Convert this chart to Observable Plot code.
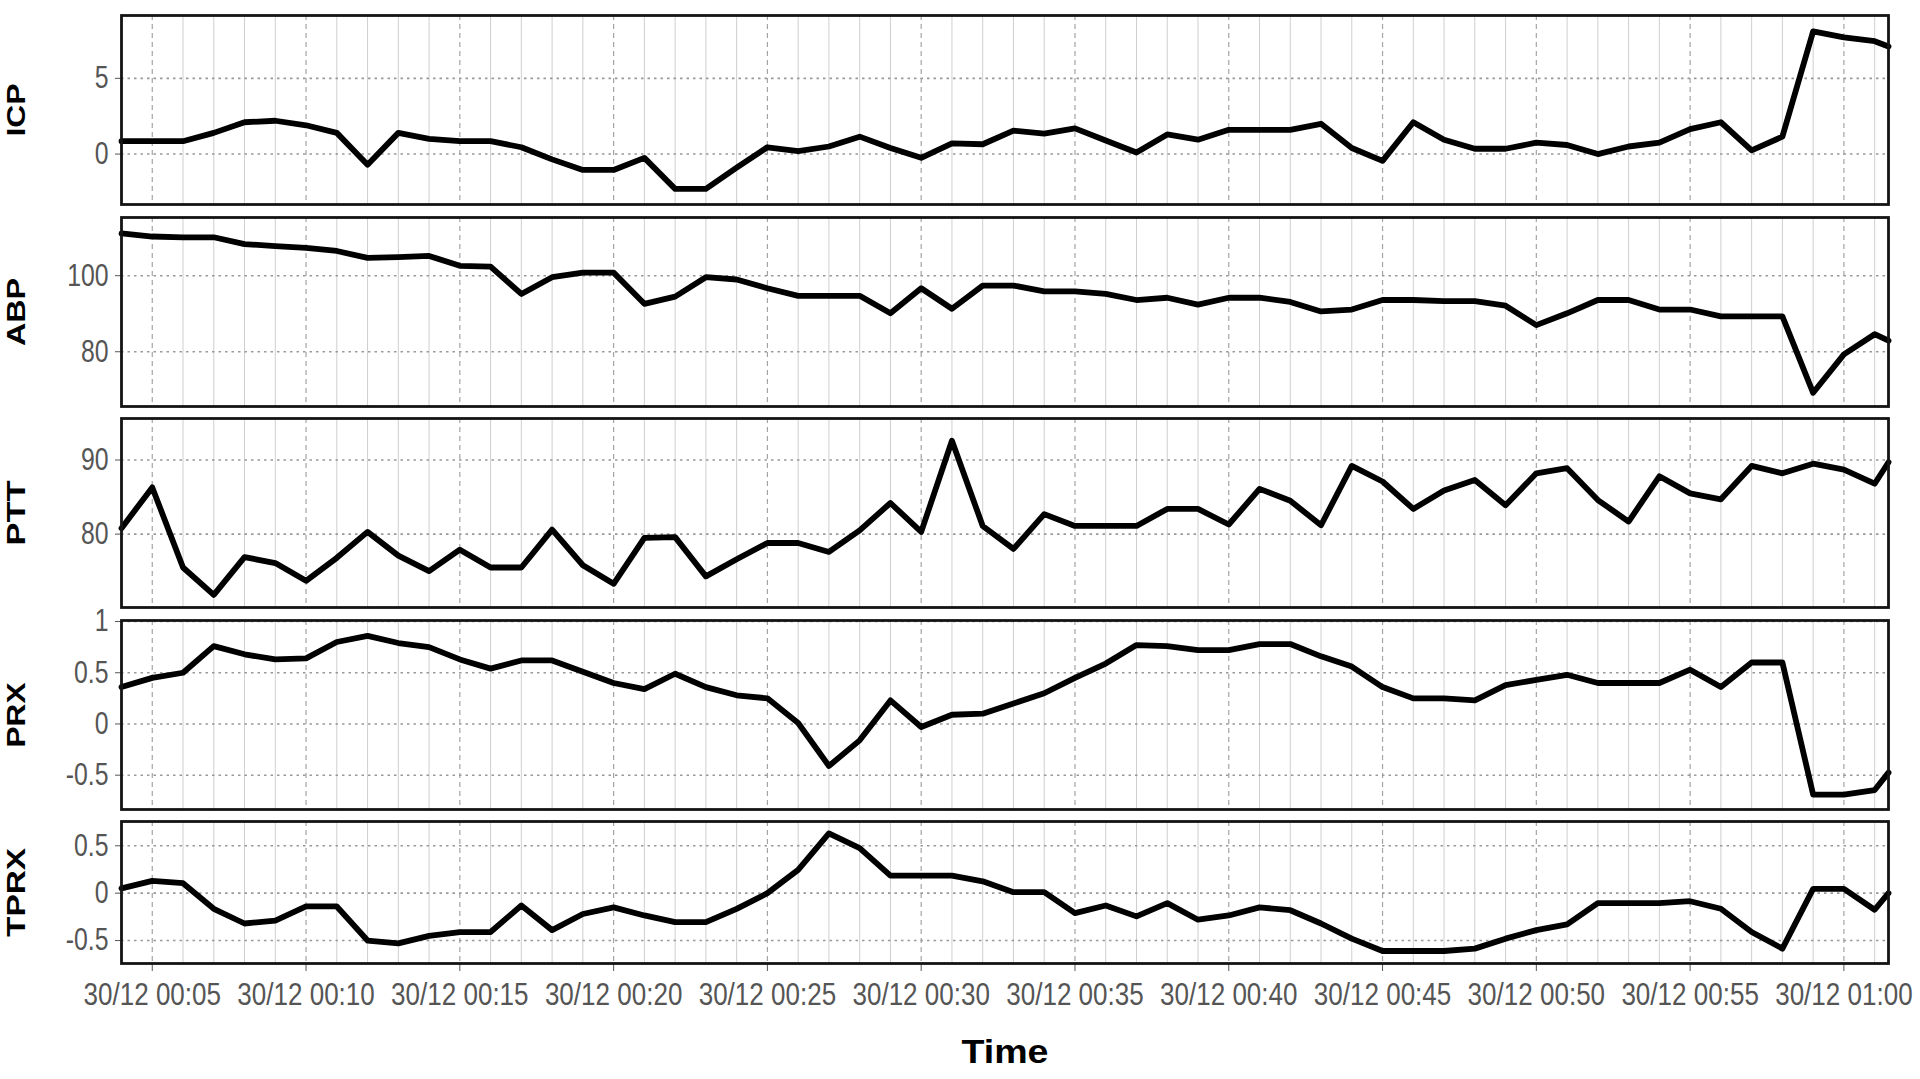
<!DOCTYPE html>
<html>
<head>
<meta charset="utf-8">
<script src="https://cdn.jsdelivr.net/npm/d3@7"></script>
<script src="https://cdn.jsdelivr.net/npm/@observablehq/plot@0.6"></script>
<style>
html, body { margin: 0; padding: 0; background: #fff; overflow: hidden; }
#chart { position: relative; width: 1920px; height: 1079px; }
#chart svg { position: absolute; left: 0; }
</style>
</head>
<body>
<div id="chart"></div>
<script>
// ---- data ----
const times = [
  "00:04","00:05","00:06","00:07","00:08","00:09","00:10","00:11","00:12","00:13",
  "00:14","00:15","00:16","00:17","00:18","00:19","00:20","00:21","00:22","00:23",
  "00:24","00:25","00:26","00:27","00:28","00:29","00:30","00:31","00:32","00:33",
  "00:34","00:35","00:36","00:37","00:38","00:39","00:40","00:41","00:42","00:43",
  "00:44","00:45","00:46","00:47","00:48","00:49","00:50","00:51","00:52","00:53",
  "00:54","00:55","00:56","00:57","00:58","00:59","01:00","01:01","01:01:27"
];
const icp = [
  0.85, 0.85, 0.85, 1.4, 2.1, 2.2, 1.9, 1.4, -0.7, 1.4,
  1.0, 0.85, 0.85, 0.45, -0.35, -1.05, -1.05, -0.25, -2.3, -2.3,
  -0.9, 0.45, 0.2, 0.5, 1.15, 0.4, -0.25, 0.7, 0.65, 1.55,
  1.35, 1.7, 0.9, 0.1, 1.3, 0.95, 1.6, 1.6, 1.6, 2.0,
  0.4, -0.45, 2.1, 0.95, 0.35, 0.35, 0.75, 0.6, 0.0, 0.5,
  0.75, 1.65, 2.1, 0.25, 1.15, 8.1, 7.7, 7.45, 7.1
];
const abp = [
  111.1, 110.3, 110.1, 110.1, 108.3, 107.8, 107.3, 106.5, 104.7, 104.9,
  105.2, 102.6, 102.4, 95.2, 99.6, 100.8, 100.8, 92.6, 94.5, 99.6,
  99.0, 96.7, 94.7, 94.7, 94.7, 90.1, 96.7, 91.3, 97.4, 97.4,
  95.9, 95.9, 95.2, 93.6, 94.2, 92.4, 94.2, 94.2, 93.1, 90.6,
  91.1, 93.6, 93.6, 93.3, 93.3, 92.1, 87.0, 90.1, 93.6, 93.6,
  91.1, 91.1, 89.3, 89.3, 89.3, 69.2, 79.3, 84.6, 82.9
];
const ptt = [
  80.8, 86.3, 75.5, 71.8, 76.9, 76.1, 73.7, 76.8, 80.3, 77.1,
  75.0, 77.9, 75.5, 75.5, 80.6, 75.8, 73.3, 79.5, 79.6, 74.3,
  76.6, 78.8, 78.8, 77.6, 80.5, 84.2, 80.3, 92.6, 81.1, 78.0,
  82.7, 81.1, 81.1, 81.1, 83.4, 83.4, 81.3, 86.1, 84.5, 81.2,
  89.2, 87.1, 83.4, 85.9, 87.3, 83.9, 88.2, 88.9, 84.6, 81.7,
  87.8, 85.5, 84.7, 89.2, 88.2, 89.5, 88.7, 86.8, 89.7
];
const prx = [
  0.36, 0.45, 0.50, 0.76, 0.68, 0.63, 0.64, 0.80, 0.86, 0.79,
  0.75, 0.63, 0.54, 0.62, 0.62, 0.51, 0.40, 0.34, 0.49, 0.36,
  0.28, 0.25, 0.01, -0.41, -0.16, 0.23, -0.03, 0.09, 0.10, 0.20,
  0.30, 0.45, 0.59, 0.77, 0.76, 0.72, 0.72, 0.78, 0.78, 0.66,
  0.56, 0.36, 0.25, 0.25, 0.23, 0.38, 0.43, 0.48, 0.40, 0.40,
  0.40, 0.53, 0.36, 0.60, 0.60, -0.69, -0.69, -0.645, -0.475
];
const tprx = [
  0.05, 0.13, 0.105, -0.165, -0.32, -0.29, -0.14, -0.14, -0.50, -0.53,
  -0.45, -0.41, -0.41, -0.13, -0.39, -0.22, -0.15, -0.235, -0.305, -0.305,
  -0.165, 0.0, 0.245, 0.63, 0.475, 0.185, 0.185, 0.185, 0.125, 0.01,
  0.01, -0.21, -0.13, -0.245, -0.105, -0.28, -0.235, -0.15, -0.18, -0.32,
  -0.48, -0.61, -0.61, -0.61, -0.585, -0.48, -0.39, -0.33, -0.105, -0.105,
  -0.105, -0.085, -0.165, -0.41, -0.585, 0.045, 0.045, -0.175, 0.0
];
const seriesNames = ["ICP", "ABP", "PTT", "PRX", "TPRX"];
const icpTicks = [0, 5];
const abpTicks = [80, 100];
const pttTicks = [80, 90];
const prxTicks = [-0.5, 0, 0.5, 1];
const tprxTicks = [-0.5, 0, 0.5];
const majorTicks = ["00:05","00:10","00:15","00:20","00:25","00:30","00:35","00:40","00:45","00:50","00:55","01:00"];
const minorTicks = [
  "00:04","00:06","00:07","00:08","00:09","00:11","00:12","00:13","00:14","00:16",
  "00:17","00:18","00:19","00:21","00:22","00:23","00:24","00:26","00:27","00:28",
  "00:29","00:31","00:32","00:33","00:34","00:36","00:37","00:38","00:39","00:41",
  "00:42","00:43","00:44","00:46","00:47","00:48","00:49","00:51","00:52","00:53",
  "00:54","00:56","00:57","00:58","00:59","01:01"
];
const xStart = "00:04", xEnd = "01:01:27";
const xTitle = "Time";

// ---- layout / style ----
const layout = {
  width: 1920, marginLeft: 121, marginRight: 32, padTop: 15, padBottom: 6,
  panelTops: [15, 217, 418, 620, 821],
  panelHeights: [189, 189, 189, 189, 142],
  yDomains: [[-3.33, 9.15], [65.6, 115.3], [70.1, 95.6], [-0.835, 1.01], [-0.742, 0.756]],
  totalHeight: 1079
};
const titleLengths = { ICP: 53, ABP: 68, PTT: 65, PRX: 65, TPRX: 89, Time: 87 };
const xLabelSquash = 0.84, yLabelSquash = 0.8;
const font = "'Liberation Sans', Arial, Helvetica, sans-serif";

const toDate = s => new Date(`2000-12-30T${s.length === 5 ? s + ":00" : s}Z`);
const allValues = [icp, abp, ptt, prx, tprx];
const allTicks = [icpTicks, abpTicks, pttTicks, prxTicks, tprxTicks];
const tDates = times.map(toDate);
const majorDates = majorTicks.map(toDate);
const minorDates = minorTicks.map(toDate);
const xDomain = [toDate(xStart), toDate(xEnd)];
const fmt = d3.utcFormat("%d/%m %H:%M");

const container = document.getElementById("chart");

seriesNames.forEach((name, i) => {
  const last = i === seriesNames.length - 1;
  const ph = layout.panelHeights[i];
  const marginTop = layout.padTop;
  const marginBottom = last ? layout.totalHeight - (layout.panelTops[i] + ph) : layout.padBottom;
  const height = marginTop + ph + marginBottom;
  const data = tDates.map((t, k) => ({t, v: allValues[i][k]}));
  const ticks = allTicks[i];

  const marks = [
    Plot.ruleX(minorDates, {x: d => d, stroke: "#cfcfcf", strokeWidth: 1}),
    Plot.ruleX(majorDates, {x: d => d, stroke: "#a4a4a4", strokeWidth: 1.2, strokeDasharray: "5,4"}),
    Plot.ruleY(ticks, {y: d => d, stroke: "#999", strokeWidth: 1.6, strokeDasharray: "2.5,4"}),
    Plot.line(data, {x: "t", y: "v", stroke: "#000", strokeWidth: 5.8, strokeLinejoin: "round"}),
    Plot.frame({stroke: "#141414", strokeWidth: 2.8}),
    Plot.text([name], {text: d => d, frameAnchor: "left", dx: 16 - layout.marginLeft, rotate: -90,
      fontSize: 25, fontWeight: "bold", fill: "#000", textAnchor: "middle", lineAnchor: "middle"})
  ];
  if (last) {
    marks.push(Plot.text([xTitle], {text: d => d, frameAnchor: "bottom", dy: 89,
      fontSize: 33, fontWeight: "bold", fill: "#000", textAnchor: "middle", lineAnchor: "middle"}));
  }

  const svg = Plot.plot({
    width: layout.width,
    height,
    marginLeft: layout.marginLeft,
    marginRight: layout.marginRight,
    marginTop,
    marginBottom,
    style: {background: "transparent", overflow: "visible", fontFamily: font, fontSize: "31px", color: "#555"},
    x: {type: "utc", domain: xDomain, ticks: majorDates, tickFormat: fmt, tickSize: 8, tickPadding: 11,
        label: null, axis: last ? "bottom" : null},
    y: {domain: layout.yDomains[i], ticks, tickFormat: d => String(d), tickSize: 6, tickPadding: 7, label: null},
    marks
  });
  svg.style.top = (layout.panelTops[i] - marginTop) + "px";
  container.appendChild(svg);

  // condense axis text horizontally like the reference; stretch titles to their measured lengths
  svg.querySelectorAll("text").forEach(t => {
    const ax = t.closest('[aria-label^="x-axis"]');
    const ay = t.closest('[aria-label^="y-axis"]');
    const txt = t.textContent.trim();
    if (ax || ay) {
      const k = ax ? xLabelSquash : yLabelSquash;
      const tr = t.getAttribute("transform");
      if (tr && /translate/.test(tr)) {
        t.setAttribute("transform", tr + ` scale(${k},1)`);
      } else {
        const L = t.getComputedTextLength();
        t.setAttribute("textLength", (L * k).toFixed(1));
        t.setAttribute("lengthAdjust", "spacingAndGlyphs");
      }
    } else if (titleLengths[txt]) {
      t.setAttribute("textLength", titleLengths[txt]);
      t.setAttribute("lengthAdjust", "spacingAndGlyphs");
    }
  });
});
</script>
</body>
</html>
